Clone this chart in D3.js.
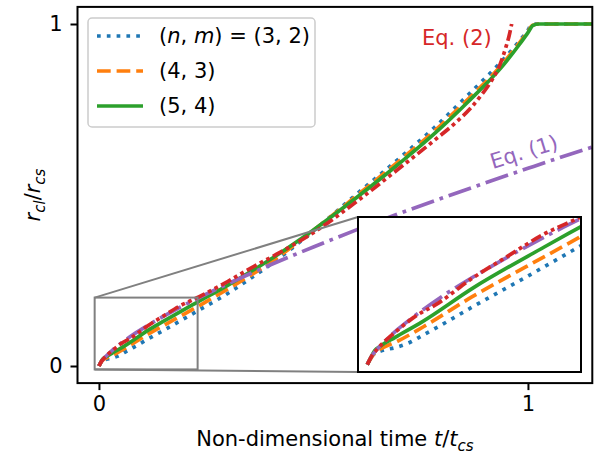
<!DOCTYPE html>
<html>
<head>
<meta charset="utf-8">
<script src="https://cdn.jsdelivr.net/npm/d3@7"></script>
<style>
  body { margin: 0; background: #fff; }
  svg { display: block; font-family: "DejaVu Sans", sans-serif; }
</style>
</head>
<body>
<div id="chart"></div>
<script>
// ---- data ----
const t32 = [0, 0.006, 0.016, 0.03, 0.044, 0.06, 0.08, 0.113, 0.17, 0.227, 0.3, 0.352, 0.4, 0.5, 0.6, 0.7, 0.78, 0.86, 0.94, 0.98, 1.0, 1.008, 1.02, 1.15];
const r32 = [0, 0.013, 0.019, 0.023, 0.029, 0.04, 0.054, 0.078, 0.118, 0.159, 0.212, 0.255, 0.297, 0.395, 0.502, 0.607, 0.695, 0.792, 0.893, 0.95, 0.982, 0.997, 1.0, 1.0];

const t43 = [0, 0.008, 0.017, 0.033, 0.06, 0.113, 0.17, 0.229, 0.3, 0.4, 0.5, 0.6, 0.7, 0.78, 0.86, 0.94, 0.98, 1.0, 1.01, 1.025, 1.15];
const r43 = [0, 0.016, 0.023, 0.032, 0.051, 0.092, 0.132, 0.173, 0.225, 0.303, 0.397, 0.497, 0.6, 0.685, 0.78, 0.882, 0.945, 0.978, 0.996, 1.0, 1.0];

const t54 = [0, 0.004, 0.008, 0.014, 0.03, 0.059, 0.114, 0.19, 0.23, 0.3, 0.4, 0.5, 0.6, 0.7, 0.78, 0.86, 0.94, 0.98, 1.0, 1.012, 1.025, 1.15];
const r54 = [0, 0.01, 0.019, 0.025, 0.037, 0.058, 0.104, 0.159, 0.187, 0.236, 0.312, 0.398, 0.492, 0.592, 0.677, 0.772, 0.876, 0.94, 0.975, 0.996, 1.0, 1.0];

// Eq. (1)
const tEq1 = [0, 0.005, 0.01, 0.02, 0.033, 0.05, 0.08, 0.113, 0.15, 0.2, 0.25, 0.3, 0.4, 0.5, 0.6, 0.7, 0.8, 0.9, 1.0, 1.1, 1.15];
const rEq1 = [0, 0.012, 0.02, 0.033, 0.048, 0.065, 0.092, 0.118, 0.145, 0.179, 0.21, 0.24, 0.296, 0.348, 0.398, 0.446, 0.491, 0.535, 0.578, 0.62, 0.64];

// Eq. (2)
const tEq2 = [0, 0.005, 0.01, 0.02, 0.033, 0.05, 0.076, 0.113, 0.15, 0.189, 0.226, 0.3, 0.352, 0.422, 0.5, 0.6, 0.7, 0.78, 0.83, 0.865, 0.893, 0.916, 0.935, 0.948, 0.956, 0.962];
const rEq2 = [0, 0.012, 0.02, 0.033, 0.047, 0.064, 0.083, 0.117, 0.146, 0.176, 0.198, 0.247, 0.285, 0.332, 0.39, 0.48, 0.578, 0.658, 0.71, 0.752, 0.795, 0.836, 0.882, 0.93, 0.965, 1.0];

const xTicks = [0, 1];
const yTicks = [0, 1];
const mainXLim = [-0.05, 1.15];
const mainYLim = [-0.05, 1.05];
const insetXLim = [-0.01, 0.23];
const insetYLim = [-0.01, 0.20];

// ---- styles ----
const LW = 3.7;
const series = [
  {t: t32, r: r32, color: "#1f77b4", dash: [1, 1.65]},
  {t: t43, r: r43, color: "#ff7f0e", dash: [3.7, 1.6]},
  {t: t54, r: r54, color: "#2ca02c", dash: null},
  {t: tEq1, r: rEq1, color: "#9467bd", dash: [6.4, 1.6, 1, 1.6]},
  {t: tEq2, r: rEq2, color: "#d62728", dash: [3, 1, 1, 1, 1, 1]}
];
const dashStr = d => d ? d.map(v => v * LW).join(",") : null;

const W = 595, H = 456;
const svg = d3.select("#chart").append("svg")
  .attr("width", W).attr("height", H);

// main axes
const x = d3.scaleLinear().domain(mainXLim).range([77.5, 592.3]);
const y = d3.scaleLinear().domain(mainYLim).range([383.1, 6.9]);

// inset axes
const xi = d3.scaleLinear().domain(insetXLim).range([358, 581]);
const yi = d3.scaleLinear().domain(insetYLim).range([372, 217]);

const defs = svg.append("defs");
defs.append("clipPath").attr("id", "clipMain").append("rect")
  .attr("x", x.range()[0]).attr("y", y.range()[1])
  .attr("width", x.range()[1] - x.range()[0]).attr("height", y.range()[0] - y.range()[1]);
defs.append("clipPath").attr("id", "clipInset").append("rect")
  .attr("x", xi.range()[0]).attr("y", yi.range()[1])
  .attr("width", xi.range()[1] - xi.range()[0]).attr("height", yi.range()[0] - yi.range()[1]);

function drawLines(g, sx, sy, clip) {
  const line = d3.line()
    .x(d => sx(d[0])).y(d => sy(d[1]))
    .curve(d3.curveMonotoneX);
  const lg = g.append("g").attr("clip-path", "url(#" + clip + ")");
  series.forEach(s => {
    lg.append("path")
      .datum(s.t.map((v, i) => [v, s.r[i]]))
      .attr("d", line)
      .attr("fill", "none")
      .attr("stroke", s.color)
      .attr("stroke-width", LW)
      .attr("stroke-dasharray", dashStr(s.dash));
  });
}

const gMain = svg.append("g");
drawLines(gMain, x, y, "clipMain");

// annotations
svg.append("text")
  .attr("x", 422).attr("y", 45)
  .attr("fill", "#d62728").attr("font-size", 21)
  .text("Eq. (2)");
svg.append("text")
  .attr("transform", "translate(524,152) rotate(-17)")
  .attr("text-anchor", "middle").attr("dominant-baseline", "central")
  .attr("fill", "#9467bd").attr("font-size", 21)
  .text("Eq. (1)");

// zoom rectangle and connectors
const grey = "#808080";
svg.append("rect")
  .attr("x", x(insetXLim[0])).attr("y", y(insetYLim[1]))
  .attr("width", x(insetXLim[1]) - x(insetXLim[0]))
  .attr("height", y(insetYLim[0]) - y(insetYLim[1]))
  .attr("fill", "none").attr("stroke", grey).attr("stroke-width", 2);
svg.append("line")
  .attr("x1", x(insetXLim[0])).attr("y1", y(insetYLim[1]))
  .attr("x2", xi.range()[0]).attr("y2", yi.range()[1])
  .attr("stroke", grey).attr("stroke-width", 2);
svg.append("line")
  .attr("x1", x(insetXLim[0])).attr("y1", y(insetYLim[0]))
  .attr("x2", xi.range()[0]).attr("y2", yi.range()[0])
  .attr("stroke", grey).attr("stroke-width", 2);

// inset
const gInset = svg.append("g");
gInset.append("rect")
  .attr("x", xi.range()[0]).attr("y", yi.range()[1])
  .attr("width", xi.range()[1] - xi.range()[0]).attr("height", yi.range()[0] - yi.range()[1])
  .attr("fill", "#fff");
drawLines(gInset, xi, yi, "clipInset");
gInset.append("rect")
  .attr("x", xi.range()[0]).attr("y", yi.range()[1])
  .attr("width", xi.range()[1] - xi.range()[0]).attr("height", yi.range()[0] - yi.range()[1])
  .attr("fill", "none").attr("stroke", "#000").attr("stroke-width", 2);

// axes
const xAxis = svg.append("g")
  .attr("transform", "translate(0," + y.range()[0] + ")")
  .call(d3.axisBottom(x).tickValues(xTicks).tickFormat(d3.format("d")).tickSize(7).tickPadding(6));
const yAxis = svg.append("g")
  .attr("transform", "translate(" + x.range()[0] + ",0)")
  .call(d3.axisLeft(y).tickValues(yTicks).tickFormat(d3.format("d")).tickSize(7).tickPadding(8));
[xAxis, yAxis].forEach(a => {
  a.select(".domain").remove();
  a.selectAll(".tick line").attr("stroke-width", 2);
  a.selectAll(".tick text").attr("font-size", 21).attr("font-family", "DejaVu Sans").attr("fill", "#000");
});

// frame
svg.append("rect")
  .attr("x", x.range()[0]).attr("y", y.range()[1])
  .attr("width", x.range()[1] - x.range()[0]).attr("height", y.range()[0] - y.range()[1])
  .attr("fill", "none").attr("stroke", "#000").attr("stroke-width", 2);

// axis labels
const xl = svg.append("text")
  .attr("x", (x.range()[0] + x.range()[1]) / 2).attr("y", 446)
  .attr("text-anchor", "middle").attr("font-size", 21);
xl.append("tspan").text("Non-dimensional time ");
xl.append("tspan").attr("font-style", "italic").text("t");
xl.append("tspan").text("/");
xl.append("tspan").attr("font-style", "italic").text("t");
xl.append("tspan").attr("font-style", "italic").attr("font-size", 15).attr("dy", 5).text("cs");

const yl = svg.append("text")
  .attr("transform", "translate(40,195) rotate(-90)")
  .attr("text-anchor", "middle").attr("font-size", 21);
yl.append("tspan").attr("font-style", "italic").text("r");
yl.append("tspan").attr("font-style", "italic").attr("font-size", 15).attr("dy", 5).text("cl");
yl.append("tspan").attr("dy", -5).text("/");
yl.append("tspan").attr("font-style", "italic").text("r");
yl.append("tspan").attr("font-style", "italic").attr("font-size", 15).attr("dy", 5).text("cs");

// legend
const legend = svg.append("g");
legend.append("rect")
  .attr("x", 88).attr("y", 18).attr("width", 227).attr("height", 109)
  .attr("rx", 4).attr("fill", "#fff").attr("fill-opacity", 0.8)
  .attr("stroke", "#cccccc").attr("stroke-width", 1.5);
const legendRows = [
  {s: series[0], parts: [["(", 0], ["n", 1], [", ", 0], ["m", 1], [") = (3, 2)", 0]]},
  {s: series[1], parts: [["(4, 3)", 0]]},
  {s: series[2], parts: [["(5, 4)", 0]]}
];
legendRows.forEach((row, i) => {
  const cy = 36 + i * 35;
  legend.append("line")
    .attr("x1", 97).attr("x2", 143).attr("y1", cy).attr("y2", cy)
    .attr("stroke", row.s.color).attr("stroke-width", LW)
    .attr("stroke-dasharray", dashStr(row.s.dash));
  const tx = legend.append("text")
    .attr("x", 159).attr("y", cy).attr("dominant-baseline", "central")
    .attr("font-size", 21);
  row.parts.forEach(p => {
    tx.append("tspan").attr("font-style", p[1] ? "italic" : "normal").text(p[0]);
  });
});
</script>
</body>
</html>
